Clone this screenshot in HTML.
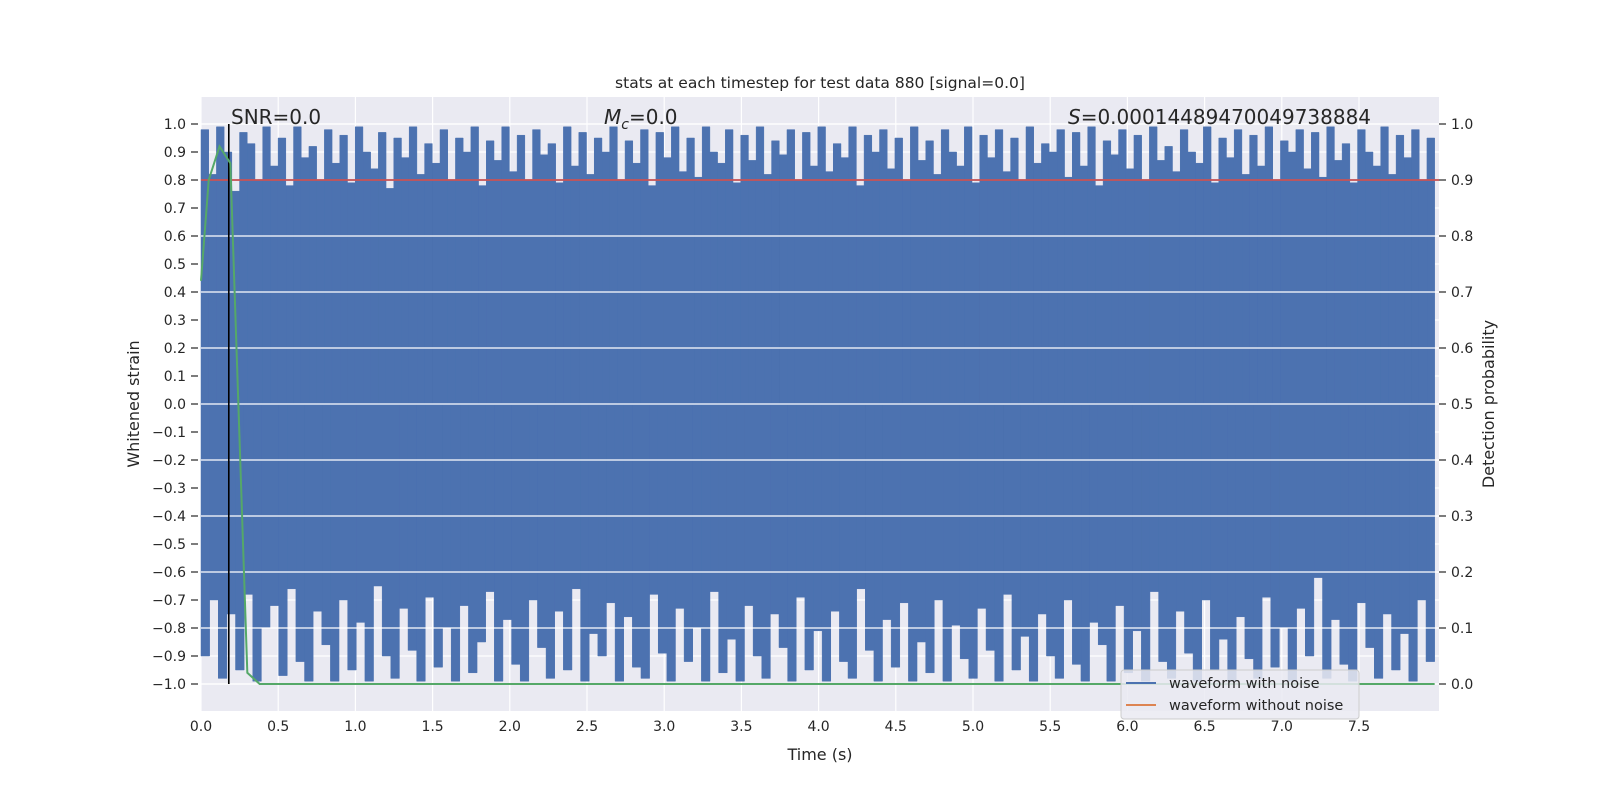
<!DOCTYPE html>
<html><head><meta charset="utf-8">
<style>
body{margin:0;background:#fff;}
svg{display:block;font-family:"DejaVu Sans","Liberation Sans",sans-serif;}
</style></head>
<body>
<svg id="chart" width="1600" height="800" viewBox="0 0 1600 800" xmlns="http://www.w3.org/2000/svg">
<rect x="201" y="97" width="1238" height="614" fill="#eaeaf2"/>
<g id="gridX"></g><g id="gridY"></g>
<g id="wave"></g>
<g id="gridR"></g>
<g id="marks"></g>
<g id="axes"></g>
<text x="820" y="88" font-size="15.5" text-anchor="middle" fill="#262626">stats at each timestep for test data 880 [signal=0.0]</text>
<text x="231" y="124" font-size="20" fill="#262626">SNR=0.0</text>
<text x="604" y="124" font-size="20" fill="#262626"><tspan font-style="italic">M</tspan><tspan font-style="italic" font-size="14" dy="5">c</tspan><tspan dy="-5">=0.0</tspan></text>
<text x="1068" y="124" font-size="20" fill="#262626"><tspan font-style="italic">S</tspan>=0.00014489470049738884</text>
<text x="820" y="760" font-size="16" text-anchor="middle" fill="#262626">Time (s)</text>
<text transform="translate(139,404) rotate(-90)" font-size="16" text-anchor="middle" fill="#262626">Whitened strain</text>
<text transform="translate(1494,404) rotate(-90)" font-size="16" text-anchor="middle" fill="#262626">Detection probability</text>
<g>
<rect x="1121" y="670" width="238" height="49" rx="3" fill="#eaeaf2" fill-opacity="0.85" stroke="#cccccc"/>
<line x1="1126" y1="683" x2="1156" y2="683" stroke="#4c72b0" stroke-width="2"/>
<text x="1169" y="688" font-size="14.5" fill="#262626">waveform with noise</text>
<line x1="1126" y1="705" x2="1156" y2="705" stroke="#dd8452" stroke-width="2"/>
<text x="1169" y="710" font-size="14.5" fill="#262626">waveform without noise</text>
</g>
</svg>
<script>
const xTicks=[0,0.5,1,1.5,2,2.5,3,3.5,4,4.5,5,5.5,6,6.5,7,7.5];
const yLeftTicks=[1,0.9,0.8,0.7,0.6,0.5,0.4,0.3,0.2,0.1,0,-0.1,-0.2,-0.3,-0.4,-0.5,-0.6,-0.7,-0.8,-0.9,-1];
const yRightTicks=[1,0.9,0.8,0.7,0.6,0.5,0.4,0.3,0.2,0.1,0];
const waveTop=[0.98,0.82,0.99,0.9,0.76,0.97,0.93,0.8,0.99,0.85,0.95,0.78,0.99,0.88,0.92,0.8,0.98,0.86,0.96,0.79,0.99,0.9,0.84,0.97,0.77,0.95,0.88,0.99,0.82,0.93,0.86,0.98,0.8,0.95,0.9,0.99,0.78,0.94,0.87,0.99,0.83,0.96,0.8,0.98,0.89,0.93,0.79,0.99,0.85,0.97,0.82,0.95,0.9,0.99,0.8,0.94,0.86,0.98,0.78,0.97,0.88,0.99,0.83,0.95,0.81,0.99,0.9,0.86,0.98,0.79,0.96,0.87,0.99,0.82,0.94,0.89,0.98,0.8,0.97,0.85,0.99,0.83,0.93,0.88,0.99,0.78,0.96,0.9,0.98,0.84,0.95,0.8,0.99,0.87,0.94,0.82,0.98,0.9,0.85,0.99,0.79,0.96,0.88,0.98,0.83,0.95,0.8,0.99,0.86,0.93,0.9,0.98,0.81,0.97,0.85,0.99,0.78,0.94,0.89,0.98,0.84,0.96,0.8,0.99,0.87,0.92,0.83,0.98,0.9,0.86,0.99,0.79,0.95,0.88,0.98,0.82,0.96,0.85,0.99,0.8,0.94,0.9,0.98,0.84,0.97,0.81,0.99,0.87,0.93,0.79,0.98,0.9,0.85,0.99,0.82,0.96,0.88,0.98,0.8,0.95];
const waveBottom=[-0.9,-0.7,-0.98,-0.75,-0.95,-0.68,-0.99,-0.8,-0.72,-0.97,-0.66,-0.92,-0.99,-0.74,-0.86,-0.99,-0.7,-0.95,-0.78,-0.99,-0.65,-0.9,-0.98,-0.73,-0.88,-0.99,-0.69,-0.94,-0.8,-0.99,-0.72,-0.96,-0.85,-0.67,-0.99,-0.77,-0.93,-0.99,-0.7,-0.87,-0.98,-0.74,-0.95,-0.66,-0.99,-0.82,-0.9,-0.71,-0.99,-0.76,-0.94,-0.98,-0.68,-0.89,-0.99,-0.73,-0.92,-0.8,-0.99,-0.67,-0.96,-0.84,-0.99,-0.72,-0.9,-0.98,-0.75,-0.87,-0.99,-0.69,-0.95,-0.81,-0.99,-0.74,-0.92,-0.98,-0.66,-0.88,-0.99,-0.77,-0.94,-0.71,-0.99,-0.85,-0.96,-0.7,-0.99,-0.79,-0.91,-0.98,-0.73,-0.88,-0.99,-0.68,-0.95,-0.83,-0.99,-0.75,-0.9,-0.98,-0.7,-0.93,-0.99,-0.78,-0.86,-0.99,-0.72,-0.96,-0.81,-0.99,-0.67,-0.92,-0.98,-0.74,-0.89,-0.99,-0.7,-0.95,-0.84,-0.99,-0.76,-0.91,-0.98,-0.69,-0.94,-0.8,-0.99,-0.73,-0.9,-0.62,-0.98,-0.77,-0.93,-0.99,-0.71,-0.87,-0.98,-0.75,-0.95,-0.82,-0.99,-0.7,-0.92];
const probTimes=[0,0.05,0.12,0.19,0.3,0.38,7.99];
const probValues=[0.72,0.9,0.96,0.93,0.02,0,0];
const thresholdLeft=0.8;
const markerTime=0.18;

const X0=201,X1=1439,PXS=154.4;
const x=t=>X0+t*PXS;
const yL=v=>404-v*280;
const yR=v=>684-v*560;
const NS='http://www.w3.org/2000/svg';
function mk(tag,parent,attrs){const e=document.createElementNS(NS,tag);for(const k in attrs)e.setAttribute(k,attrs[k]);document.getElementById(parent).appendChild(e);return e;}

xTicks.forEach(t=>{
 const g=mk('line','gridX',{x1:x(t),x2:x(t),y1:97,y2:711,stroke:'#fff','stroke-width':1.2});
 
 
 const tl=mk('text','axes',{x:x(t),y:731,'font-size':14,'text-anchor':'middle',fill:'#262626'});
 tl.textContent=t.toFixed(1);
 
 
});
yLeftTicks.forEach(v=>{
 const g=mk('line','gridY',{x1:X0,x2:X1,y1:yL(v),y2:yL(v),stroke:'#fff','stroke-width':1.2});
 
 
 const tk=mk('line','axes',{x1:191,x2:198,y1:yL(v),y2:yL(v),stroke:'#262626','stroke-width':1.2});
 
 
 const tl=mk('text','axes',{x:186,y:yL(v)+5,'font-size':14,'text-anchor':'end',fill:'#262626'});
 tl.textContent=(v<0?'\u2212':'')+Math.abs(v).toFixed(1);
 
 
});
function envelope(arr){
 const bw=7.99/arr.length;let d='';
 arr.forEach((v,i)=>{
  const xa=x(i*bw),xb=x((i+1)*bw);
  d+=`M${xa},${yL(0)}V${yL(v)}H${xb}V${yL(0)}Z`;
 });
 return d;
}
const wpt=mk('path','wave',{d:envelope(waveTop),fill:'#4c72b0',stroke:'#4c72b0','stroke-width':0.5});


const wpb=mk('path','wave',{d:envelope(waveBottom),fill:'#4c72b0',stroke:'#4c72b0','stroke-width':0.5});


yRightTicks.forEach(v=>{
 const g=mk('line','gridR',{x1:X0,x2:X1,y1:yR(v),y2:yR(v),stroke:'#fff','stroke-width':1.3});
 
 
 const tk=mk('line','axes',{x1:1439,x2:1446,y1:yR(v),y2:yR(v),stroke:'#262626','stroke-width':1.2});
 
 
 const tl=mk('text','axes',{x:1451,y:yR(v)+5,'font-size':14,fill:'#262626'});
 tl.textContent=v.toFixed(1);
 
 
});
const th=mk('line','marks',{x1:X0,x2:X1,y1:yL(thresholdLeft),y2:yL(thresholdLeft),stroke:'#c44e52','stroke-width':1.8});


const mv=mk('line','marks',{x1:x(markerTime),x2:x(markerTime),y1:yL(1),y2:yL(-1),stroke:'#000','stroke-width':1.6});


const pl=mk('polyline','marks',{points:probTimes.map((t,i)=>x(t)+','+yR(probValues[i])).join(' '),fill:'none',stroke:'#55a868','stroke-width':2});


</script>
</body></html>
